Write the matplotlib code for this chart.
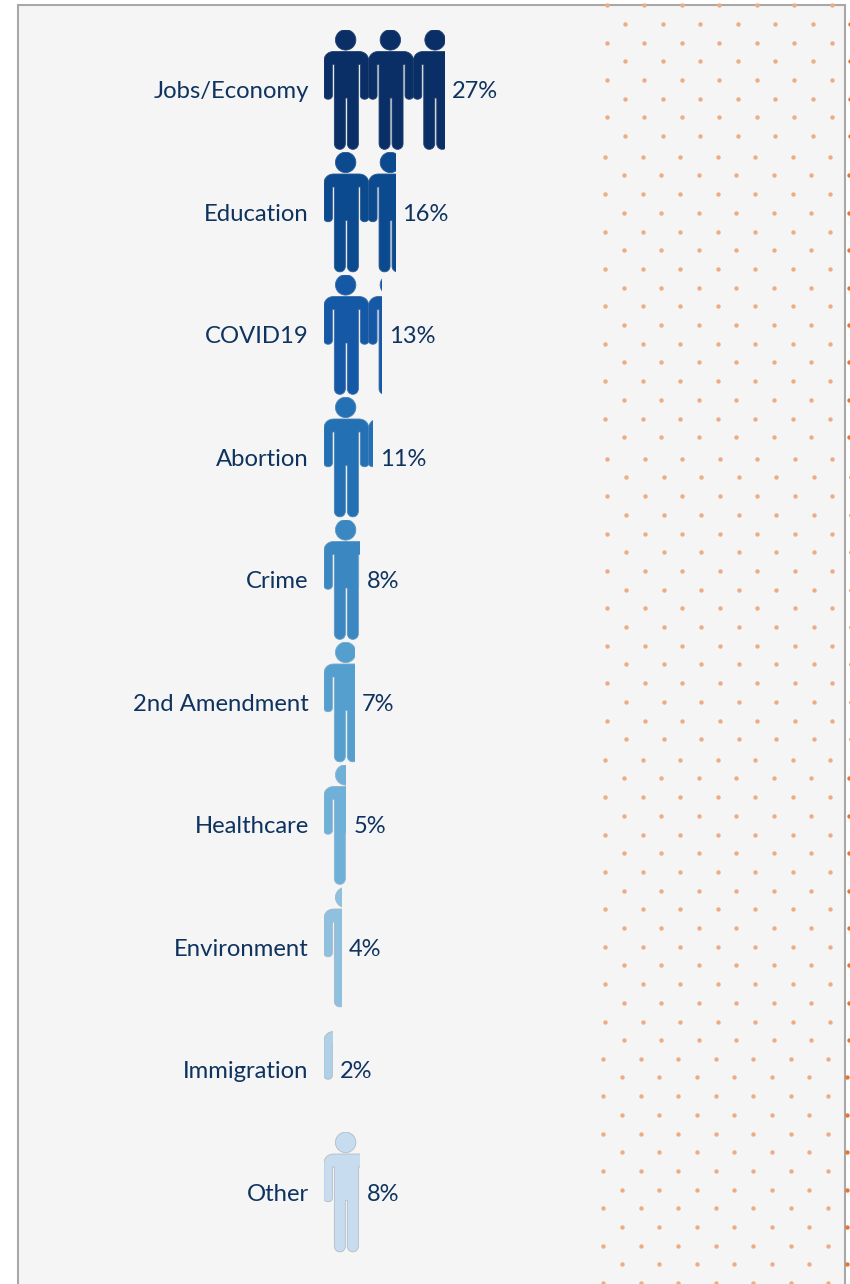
import numpy as np
import matplotlib
matplotlib.use('Agg')
import matplotlib.pyplot as plt
from matplotlib.patches import PathPatch, Rectangle
from matplotlib.path import Path
from matplotlib.transforms import Affine2D, ScaledTranslation

# Datos
categories = ['Jobs/Economy', 'Education', 'COVID19', 'Abortion', 'Crime',
              '2nd Amendment', 'Healthcare', 'Environment', 'Immigration', 'Other']
values = [27, 16, 13, 11, 8, 7, 5, 4, 2, 8]
colors = ['#0a2f66', '#0b4a8e', '#1558a6', '#2470b4', '#3a87c1',
          '#549fcd', '#6fb0d8', '#8fc0de', '#afd0e6', '#c8dcf0']
edge_colors = ['#22426f', '#2a5a92', '#3a6ca8', '#4a84b8', '#5f97c4',
               '#78aacb', '#8fb4cf', '#9fb9cc', '#aebbc8', '#b4bbc4']

# Bloques del fondo de puntos
dot_block_y = [5.3, 156.7, 458.7, 759.7, 1058.7]
dot_block_x = [606.8, 605.3, 607.5, 605.3, 603.3]
dot_block_rows = [8, 16, 16, 16, 13]

W, H = 850, 1284
PCT_PX = 4.47     # pixeles por cada 1 %
ROW_PX = 122.5    # alto de cada fila
TEXT = '#0f335f'

plt.rcParams['font.family'] = ['Lato', 'DejaVu Sans']

fig = plt.figure(figsize=(W / 100, H / 100), dpi=100, facecolor='white')

# Fondo en coordenadas de pixel
bg = fig.add_axes([0, 0, 1, 1], zorder=0)
bg.set_xlim(0, W)
bg.set_ylim(H, 0)
bg.axis('off')
bg.add_patch(Rectangle((18.5, 4.5), 826.5, H + 20, facecolor='#f5f5f5',
                       edgecolor='#a8a8a8', linewidth=1.5))

for y0, x0, n in zip(dot_block_y, dot_block_x, dot_block_rows):
    for r in range(n):
        y = y0 + r * 18.7
        if r % 2 == 0:
            xs = x0 + 37.5 * np.arange(7)
            bg.scatter(xs, np.full(7, y), s=10, color='#eeac80', linewidth=0)
        else:
            xs = x0 + 18.7 + 37.5 * np.arange(6)
            bg.scatter(xs, np.full(6, y), s=10, color='#eeac80', linewidth=0)
            bg.scatter([x0 + 18.7 + 225], [y], s=10, color='#e8752a', linewidth=0, clip_on=True)


def person_path():
    # Silueta en pixeles: centro en x=0, parte superior en y=0
    k = Path.CURVE4
    l = Path.LINETO
    v = [(-12.5, 22), (-18.5, 22), (-22.5, 26), (-22.5, 32), (-22.5, 66), (-22.5, 71), (-14, 71), (-14, 66),
         (-14, 35), (-12, 35), (-12, 114), (-12, 121.8), (-1, 121.8), (-1, 114),
         (-1, 68.5), (1, 68.5), (1, 114), (1, 121.8), (12, 121.8), (12, 114),
         (12, 35), (14, 35), (14, 66), (14, 71), (22.5, 71), (22.5, 66),
         (22.5, 32), (22.5, 26), (18.5, 22), (12.5, 22), (-12.5, 22)]
    c = [Path.MOVETO, k, k, k, l, k, k, k,
         l, l, l, k, k, k,
         l, l, l, k, k, k,
         l, l, l, k, k, k,
         l, k, k, k, Path.CLOSEPOLY]
    head = Path.unit_circle().transformed(Affine2D().scale(10.2).translate(-0.7, 10.4))
    return Path.make_compound_path(head, Path(v, c))


# Grafico: x en %, y por categoria
ax = fig.add_axes([324 / W, 1 - 1254.5 / H, 276 / W, 1225 / H], zorder=1)
ax.patch.set_alpha(0)
ax.set_xlim(0, 276 / PCT_PX)
ax.set_ylim(len(categories) - 0.5, -0.5)
for s in ax.spines.values():
    s.set_visible(False)
ax.set_xticks([])
ax.set_yticks(range(len(categories)))
ax.set_yticklabels(categories, fontsize=17.2, color=TEXT)
ax.tick_params(axis='y', length=0, pad=11)
up = ScaledTranslation(0, 1 / 100, fig.dpi_scale_trans)
for label in ax.get_yticklabels():
    label.set_transform(label.get_transform() + up)

base = person_path()
for i, (val, col, ec) in enumerate(zip(values, colors, edge_colors)):
    bar = ax.barh(i, val, height=1, left=0, facecolor='none', edgecolor='none')[0]
    for k in range(int(np.ceil(val / 10))):
        tr = Affine2D().scale(1 / PCT_PX, 1 / ROW_PX).translate(10 * k + 5, i - 0.5)
        p = PathPatch(base.transformed(tr), facecolor=col, edgecolor=ec, linewidth=0.6)
        ax.add_patch(p)
        p.set_clip_path(bar)
    ax.annotate(f'{val}%', (val, i), xytext=(5.0, 0.7), textcoords='offset points',
                va='center_baseline', ha='left', fontsize=17, color=TEXT)

fig.savefig('out.png', dpi=100)
